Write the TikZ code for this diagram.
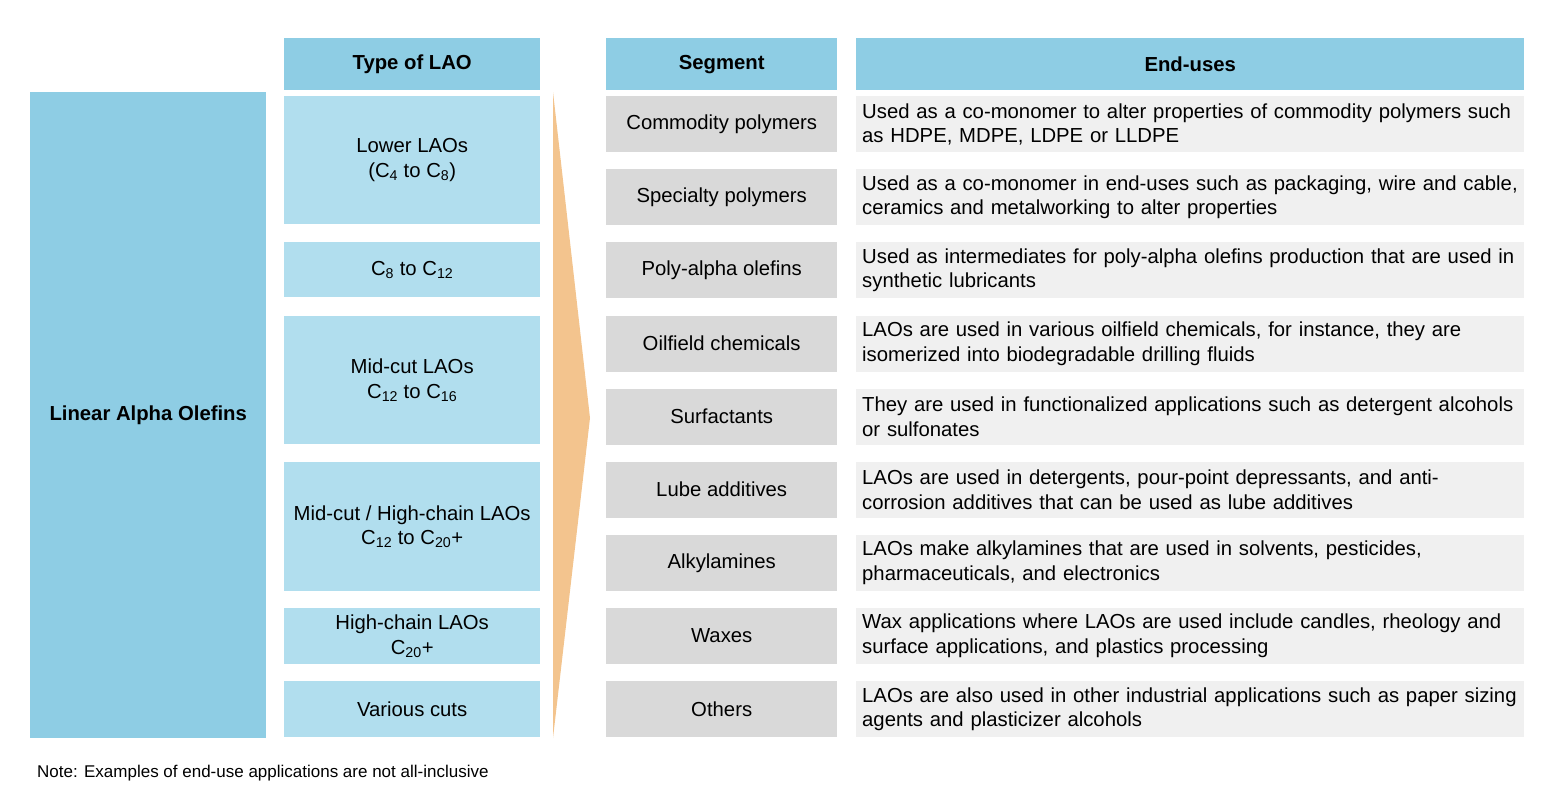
\documentclass[tikz,border=0pt]{standalone}
\usepackage{fontspec}
\setmainfont{Liberation Sans}
\usetikzlibrary{positioning}
\definecolor{hdrblue}{HTML}{8ECDE4}
\definecolor{rowblue}{HTML}{B1DEEE}
\definecolor{rowgray}{HTML}{D9D9D9}
\definecolor{rowlight}{HTML}{F0F0F0}
\definecolor{arrorange}{HTML}{F3C48E}
\tikzstyle{cell} = [
    rectangle,
    anchor=north west,
    inner sep=0pt,
    align=center,
    font=\fontsize{20.3}{24.5}\selectfont
]
\tikzstyle{hdr} = [cell, fill=hdrblue, minimum width=#1, minimum height=52, font=\fontsize{20.3}{24.5}\selectfont\bfseries]
\tikzstyle{use} = [cell, fill=rowlight, minimum width=668, minimum height=56, text width=656, align=left]
\newcommand{\C}[1]{C\textsubscript{#1}}

\begin{document}
\begin{tikzpicture}[x=1pt, y=-1pt]
\useasboundingbox (0,0) rectangle (1559,804);
% big left block
\node[cell, fill=hdrblue, minimum width=236, minimum height=646, font=\fontsize{20.3}{24.5}\selectfont\bfseries] (lao) at (30,92) {Linear Alpha Olefins};
% headers
\node[hdr=256] (htype) at (284,38) {Type of LAO};
\node[hdr=231] (hseg)  at (606,38) {Segment};
\node[hdr=668] (huse)  at (856,38) {End-uses};
% type of LAO
\node[cell, fill=rowblue, minimum width=256, minimum height=128] (t1) at (284,96)  {Lower LAOs\\(\C{4} to \C{8})};
\node[cell, fill=rowblue, minimum width=256, minimum height=55]  (t2) at (284,242) {\C{8} to \C{12}};
\node[cell, fill=rowblue, minimum width=256, minimum height=128] (t3) at (284,316) {Mid-cut LAOs\\\C{12} to \C{16}};
\node[cell, fill=rowblue, minimum width=256, minimum height=129] (t4) at (284,462) {Mid-cut / High-chain LAOs\\\C{12} to \C{20}+};
\node[cell, fill=rowblue, minimum width=256, minimum height=56]  (t5) at (284,608) {High-chain LAOs\\\C{20}+};
\node[cell, fill=rowblue, minimum width=256, minimum height=56]  (t6) at (284,681) {Various cuts};
% arrow
\fill[arrorange] (553,92) -- (590,418) -- (553,738) -- cycle;
% segments and end-uses
\foreach \i/\seg/\txt in {
  0/Commodity polymers/{Used as a co-monomer to alter properties of commodity polymers such\\as HDPE, MDPE, LDPE or LLDPE},
  1/Specialty polymers/{Used as a co-monomer in end-uses such as packaging, wire and cable,\\ceramics and metalworking to alter properties},
  2/Poly-alpha olefins/{Used as intermediates for poly-alpha olefins production that are used in\\synthetic lubricants},
  3/Oilfield chemicals/{LAOs are used in various oilfield chemicals, for instance, they are\\isomerized into biodegradable drilling fluids},
  4/Surfactants/{They are used in functionalized applications such as detergent alcohols\\or sulfonates},
  5/Lube additives/{LAOs are used in detergents, pour-point depressants, and anti-\\corrosion additives that can be used as lube additives},
  6/Alkylamines/{LAOs make alkylamines that are used in solvents, pesticides,\\pharmaceuticals, and electronics},
  7/Waxes/{Wax applications where LAOs are used include candles, rheology and\\surface applications, and plastics processing},
  8/Others/{LAOs are also used in other industrial applications such as paper sizing\\agents and plasticizer alcohols}}
{
  \node[cell, fill=rowgray, minimum width=231, minimum height=56] (s\i) at (606,96+73.1*\i) {\seg};
  \node[use] (u\i) at (856,96+73.1*\i) {\txt};
}
\node[anchor=west, inner sep=0pt, font=\fontsize{17}{20}\selectfont] (note) at (37,773) {Note: Examples of end-use applications are not all-inclusive};
\end{tikzpicture}
\end{document}
